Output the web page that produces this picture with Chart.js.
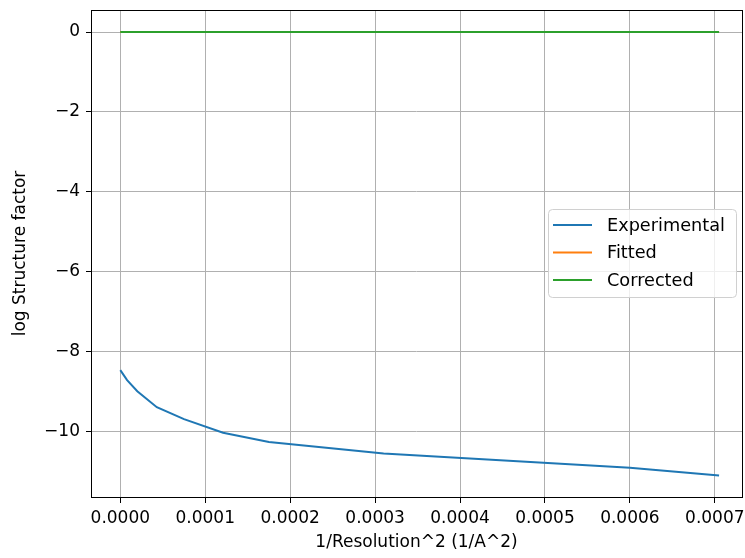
<!DOCTYPE html>
<html>
<head>
<meta charset="utf-8">
<script src="https://cdn.jsdelivr.net/npm/chart.js@4/dist/chart.umd.min.js"></script>
<style>
  html, body { margin: 0; padding: 0; background: #fff; }
  #wrap { width: 745px; height: 558px; }
</style>
</head>
<body>
<div id="wrap"><canvas id="c"></canvas></div>
<script>
// Values.
const resolution = [0, 0.000008, 0.00002, 0.000043, 0.000075, 0.000121, 0.000175, 0.00031, 0.0006, 0.000705];
const experimental = [-8.47, -8.72, -9.0, -9.40, -9.70, -10.04, -10.27, -10.56, -10.92, -11.11];
const fitted = [0, 0, 0, 0, 0, 0, 0, 0, 0, 0];
const corrected = [0, 0, 0, 0, 0, 0, 0, 0, 0, 0];
const xTicks = [0, 0.0001, 0.0002, 0.0003, 0.0004, 0.0005, 0.0006, 0.0007];
const yTicks = [-10, -8, -6, -4, -2, 0];

const FONT = { family: 'DejaVu Sans', size: 17 };
const toPoints = (ys) => resolution.map((x, i) => ({ x, y: ys[i] }));

// Frame round the plot area + legend box inside it (matplotlib look).
const framePlugin = {
  id: 'frame',
  afterDraw(chart) {
    const { ctx, chartArea: a } = chart;
    ctx.save();
    ctx.strokeStyle = '#000';
    ctx.lineWidth = 1;
    ctx.strokeRect(Math.round(a.left) + 0.5, Math.round(a.top) + 0.5,
      Math.round(a.right - a.left), Math.round(a.bottom - a.top));

    // legend
    const bx = 548, by = 209, bw = 188, bh = 88, r = 4;
    ctx.fillStyle = 'rgba(255,255,255,0.8)';
    ctx.strokeStyle = '#d0d0d0';
    ctx.beginPath();
    ctx.roundRect(bx + 0.5, by + 0.5, bw, bh, r);
    ctx.fill();
    ctx.stroke();
    ctx.font = '17.7px "DejaVu Sans"';
    ctx.textBaseline = 'middle';
    chart.data.datasets.forEach((ds, i) => {
      const y = by + 16 + i * 27.5;
      ctx.strokeStyle = ds.borderColor;
      ctx.lineWidth = 2;
      ctx.beginPath();
      ctx.moveTo(553, y);
      ctx.lineTo(592, y);
      ctx.stroke();
      ctx.fillStyle = '#000';
      ctx.fillText(ds.label, 607, y + 1);
    });
    ctx.restore();
  },
};

new Chart(document.getElementById('c'), {
  type: 'line',
  data: {
    datasets: [
      { label: 'Experimental', data: toPoints(experimental), borderColor: '#1f77b4', order: 3 },
      { label: 'Fitted', data: toPoints(fitted), borderColor: '#ff7f0e', order: 2 },
      { label: 'Corrected', data: toPoints(corrected), borderColor: '#2ca02c', order: 1 },
    ],
  },
  options: {
    responsive: true,
    maintainAspectRatio: false,
    animation: false,
    layout: { padding: { left: 10, top: 10, right: 3, bottom: 5 } },
    elements: {
      line: { borderWidth: 2, tension: 0, fill: false },
      point: { radius: 0 },
    },
    plugins: { legend: { display: false }, tooltip: { enabled: false } },
    scales: {
      x: {
        type: 'linear',
        min: -0.0000345,
        max: 0.000732,
        afterBuildTicks: (s) => { s.ticks = xTicks.map((v) => ({ value: v })); },
        afterFit: (s) => { s.height = 56; s.paddingLeft = 0; s.paddingRight = 0; },
        ticks: {
          font: FONT, color: '#000', padding: 5, maxRotation: 0,
          callback: (v) => v.toFixed(4),
        },
        grid: { color: '#b0b0b0', lineWidth: 1, tickColor: '#000', tickLength: 6 },
        border: { display: false },
        title: { display: true, text: '1/Resolution^2 (1/A^2)', font: FONT, color: '#000', padding: 0 },
      },
      y: {
        type: 'linear',
        min: -11.65,
        max: 0.553,
        afterBuildTicks: (s) => { s.ticks = yTicks.map((v) => ({ value: v })); },
        afterFit: (s) => { s.width = 81; s.paddingTop = 0; s.paddingBottom = 0; },
        ticks: {
          font: FONT, color: '#000', padding: 6,
          callback: (v) => (v < 0 ? '\u2212' + Math.abs(v) : String(v)),
        },
        grid: { color: '#b0b0b0', lineWidth: 1, tickColor: '#000', tickLength: 5 },
        border: { display: false },
        title: { display: true, text: 'log Structure factor', font: FONT, color: '#000', padding: 0 },
      },
    },
  },
  plugins: [framePlugin],
});
</script>
</body>
</html>
